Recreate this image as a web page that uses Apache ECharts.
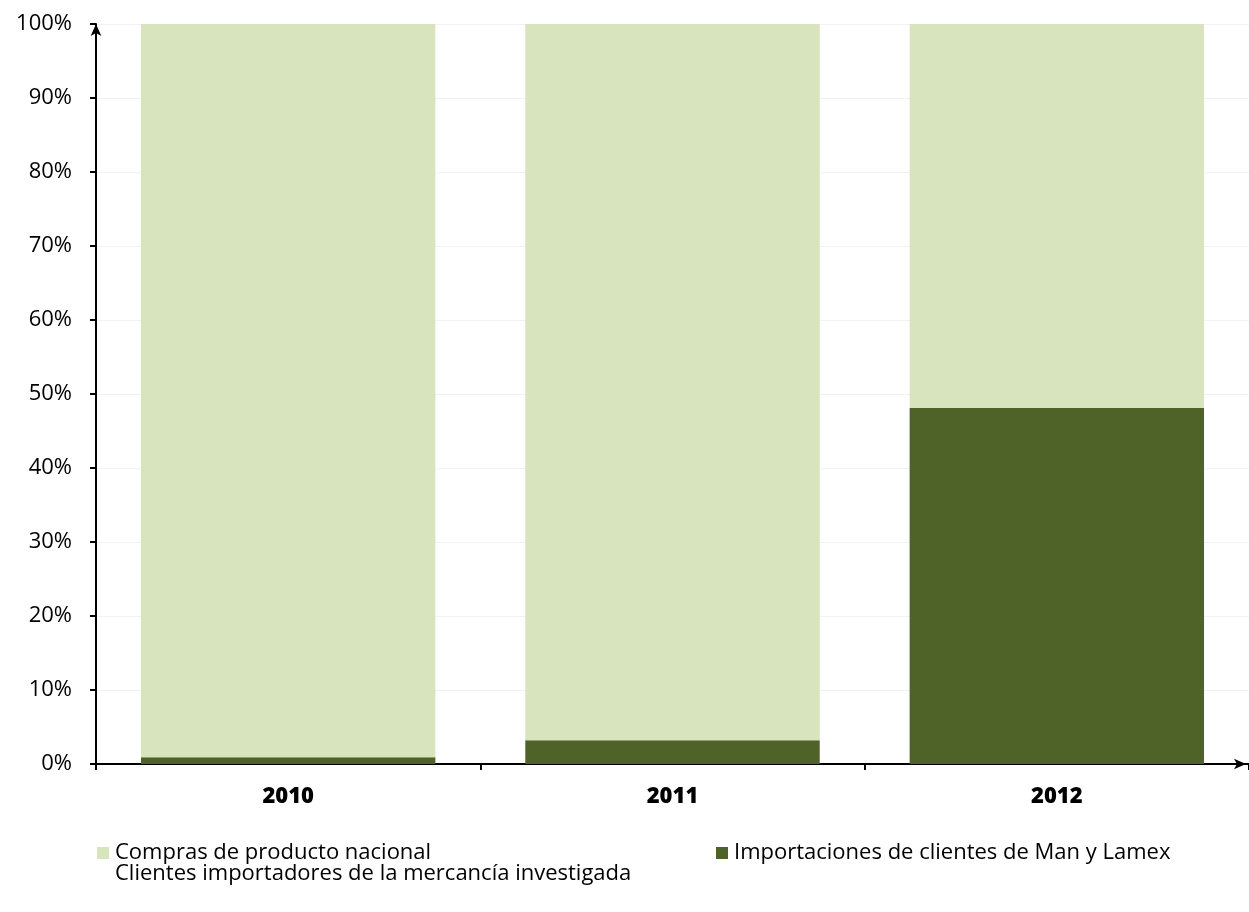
<!DOCTYPE html>
<html><head><meta charset="utf-8">
<script src="https://cdn.jsdelivr.net/npm/echarts@6/dist/echarts.min.js"></script>
<style>html,body{margin:0;padding:0;background:#fff}#c{width:1249px;height:912px}</style>
</head><body><div id="c"></div>
<script>
const categories = ['2010', '2011', '2012'];
const nacional = [99.1, 96.8, 51.9];
const importaciones = [0.9, 3.2, 48.1];
const seriesNames = ['Compras de producto nacional', 'Importaciones de clientes de Man y Lamex'];
const legendSubtitle = 'Clientes importadores de la mercancía investigada';

const FONT = '"Open Sans", "Noto Sans", sans-serif';
const chart = echarts.init(document.getElementById('c'), null, {renderer: 'canvas'});
const legendBase = {itemWidth: 12, itemHeight: 12, icon: 'rect', itemGap: 6,
  textStyle: {fontSize: 22, color: '#000', fontFamily: FONT, padding: [0, 0, 0, 1]}};
chart.setOption({
  animation: false,
  textStyle: {fontFamily: FONT},
  grid: {left: 96, top: 24, right: 0, height: 740, containLabel: false},
  xAxis: {
    type: 'category', data: categories,
    axisLine: {lineStyle: {color: '#000', width: 2}, symbol: ['none', 'arrow'], symbolSize: [8, 12], symbolOffset: [0, -3]},
    axisTick: {show: true, length: 6, lineStyle: {color: '#000', width: 2}},
    axisLabel: {color: '#000', fontSize: 22, fontWeight: 800, margin: 22, fontFamily: FONT}
  },
  yAxis: {
    type: 'value', min: 0, max: 100, interval: 10,
    axisLine: {show: true, lineStyle: {color: '#000', width: 2}, symbol: ['none', 'arrow'], symbolSize: [8, 12]},
    axisTick: {show: true, length: 6, inside: false, lineStyle: {color: '#000', width: 2}},
    axisLabel: {color: '#000', fontSize: 22, margin: 24, formatter: '{value}%', fontFamily: FONT},
    splitLine: {show: true, lineStyle: {color: '#f2f2f2', width: 1}}
  },
  legend: [
    Object.assign({data: [seriesNames[0]], left: 92, top: 837}, legendBase),
    Object.assign({data: [seriesNames[1]], left: 711, top: 837}, legendBase)
  ],
  graphic: [{type: 'text', left: 115, top: 863, style: {text: legendSubtitle, fontSize: 22, fill: '#000', fontFamily: FONT}}],
  series: [
    {name: seriesNames[1], type: 'bar', stack: 's', data: importaciones, barWidth: '76.6%', itemStyle: {color: '#4F6228'}},
    {name: seriesNames[0], type: 'bar', stack: 's', data: nacional, barWidth: '76.6%', itemStyle: {color: '#D7E4BD'}}
  ]
});
</script></body></html>
